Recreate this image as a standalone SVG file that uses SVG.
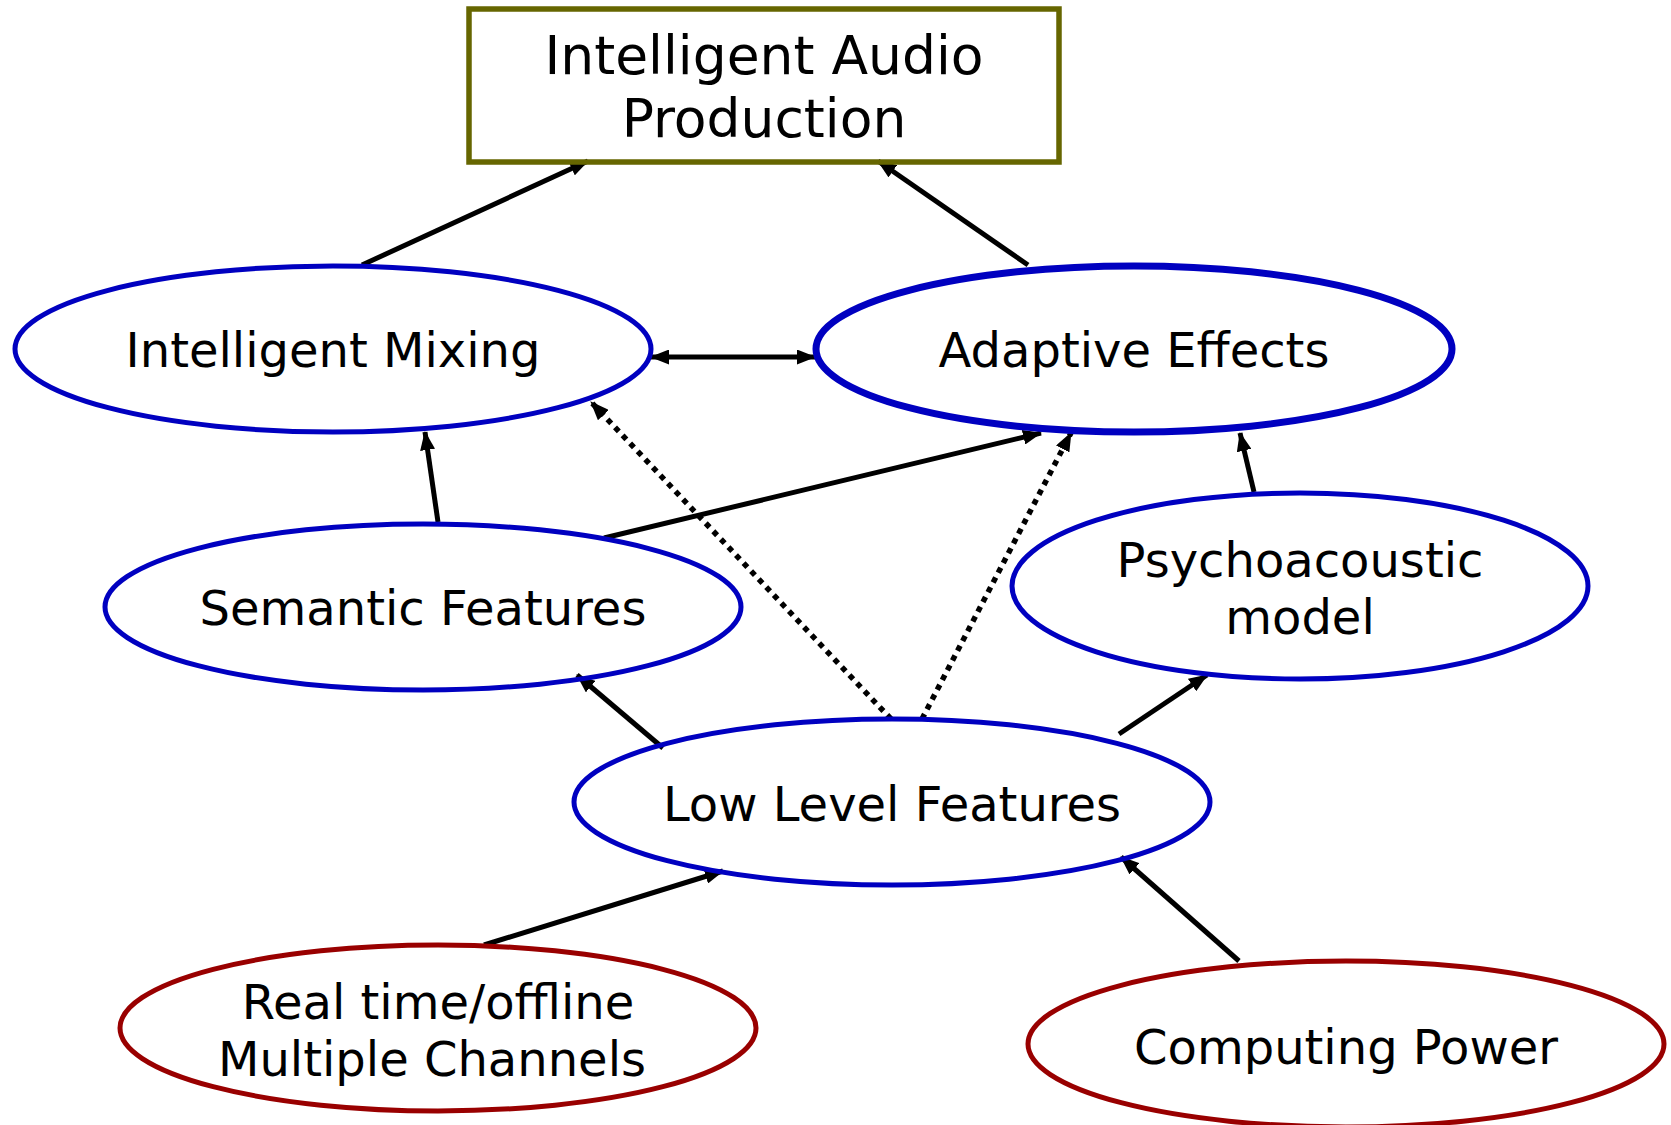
<svg xmlns="http://www.w3.org/2000/svg" width="1671" height="1125" viewBox="0 0 1671 1125">
<style>
text{font-family:"DejaVu Sans",Verdana,sans-serif;fill:#000;text-anchor:middle}
.t{font-size:48px}
.tb{font-size:53.5px}
.blue{fill:none;stroke:#0000c0;stroke-width:5}
.red{fill:none;stroke:#990000;stroke-width:5}
.c{stroke:#000;stroke-width:5;fill:none}
.d{stroke:#000;stroke-width:5.5;fill:none;stroke-dasharray:5.5 5.5}
</style>
<defs>
<marker id="ah" markerUnits="userSpaceOnUse" markerWidth="19" markerHeight="15" refX="18" refY="7.5" orient="auto-start-reverse" viewBox="0 0 19 15">
<path d="M0,0 L19,7.5 L0,15 z" fill="#000"/>
</marker>
</defs>
<rect width="1671" height="1125" fill="#fff"/>
<g id="connectors">
<line class="c" x1="362" y1="265" x2="588" y2="161" marker-end="url(#ah)"/>
<line class="c" x1="1028" y1="265" x2="878" y2="161" marker-end="url(#ah)"/>
<line class="c" x1="651" y1="357" x2="815" y2="357" marker-start="url(#ah)" marker-end="url(#ah)"/>
<line class="c" x1="438" y1="522" x2="425" y2="432" marker-end="url(#ah)"/>
<line class="c" x1="604" y1="538" x2="1041" y2="433" marker-end="url(#ah)"/>
<line class="c" x1="1254" y1="492" x2="1240" y2="433" marker-end="url(#ah)"/>
<line class="c" x1="663" y1="748" x2="577" y2="675" marker-end="url(#ah)"/>
<line class="c" x1="1119" y1="734" x2="1207" y2="675" marker-end="url(#ah)"/>
<line class="d" x1="891" y1="719" x2="591" y2="402" marker-end="url(#ah)"/>
<line class="d" x1="922" y1="719" x2="1071" y2="433" marker-end="url(#ah)"/>
<line class="c" x1="484" y1="945" x2="723" y2="871" marker-end="url(#ah)"/>
<line class="c" x1="1239" y1="961" x2="1121" y2="857" marker-end="url(#ah)"/>
</g>
<g id="iap">
<rect x="469" y="9" width="590" height="153" fill="none" stroke="#666600" stroke-width="5.5"/>
<text class="tb" x="764" y="74">Intelligent Audio</text>
<text class="tb" x="764" y="137">Production</text>
</g>
<g id="mixing">
<ellipse class="blue" cx="333" cy="349" rx="318" ry="83"/>
<text class="t" x="333" y="367">Intelligent Mixing</text>
</g>
<g id="adaptive">
<ellipse class="blue" cx="1134" cy="349" rx="318" ry="83" style="stroke-width:7"/>
<text class="t" x="1134" y="367">Adaptive Effects</text>
</g>
<g id="semantic">
<ellipse class="blue" cx="423" cy="607" rx="318" ry="83"/>
<text class="t" x="423" y="625">Semantic Features</text>
</g>
<g id="psycho">
<ellipse class="blue" cx="1300" cy="586" rx="288" ry="93"/>
<text class="t" x="1300" y="577">Psychoacoustic</text>
<text class="t" x="1300" y="634">model</text>
</g>
<g id="lowlevel">
<ellipse class="blue" cx="892" cy="802" rx="318" ry="83"/>
<text class="t" x="892" y="821">Low Level Features</text>
</g>
<g id="realtime">
<ellipse class="red" cx="438" cy="1028" rx="318" ry="83"/>
<text class="t" x="438" y="1019">Real time/offline</text>
<text class="t" x="432" y="1076">Multiple Channels</text>
</g>
<g id="computing">
<ellipse class="red" cx="1346" cy="1044" rx="318" ry="83"/>
<text class="t" x="1346" y="1064">Computing Power</text>
</g>
</svg>
